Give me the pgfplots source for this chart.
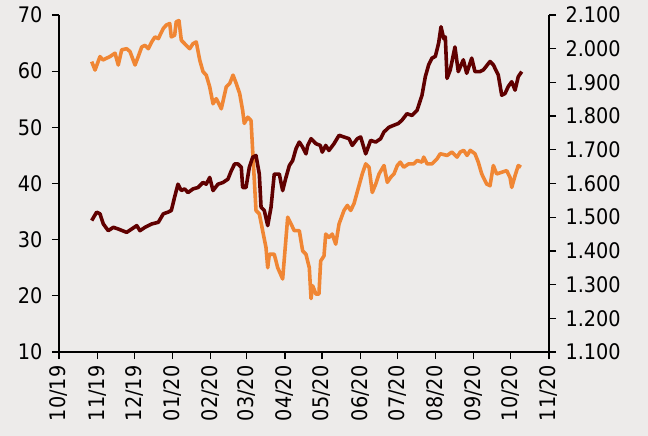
\documentclass[border=0pt]{standalone}
\usepackage{fontspec}
\setmainfont{DejaVu Sans Condensed}
\usepackage{pgfplots}
\pgfplotsset{compat=1.18}
\usepackage{pgfplotstable}

\definecolor{bgc}{HTML}{EDEBEA}
\definecolor{brent}{HTML}{F08634}
\definecolor{gold}{HTML}{600000}

% x = days since 01/10/2019
\pgfplotstableread{
d v
26.5 61.7
29.2 60.2
33.2 62.6
35.6 62.0
41.3 62.6
45.4 63.2
48.0 61.1
50.8 63.8
54.8 64.0
57.5 63.5
61.6 61.1
64.2 62.6
67.0 64.3
69.7 64.6
72.4 64.0
75.1 65.2
77.8 66.1
80.5 65.8
84.5 67.6
86.9 68.2
89.7 68.5
91.0 66.1
93.7 66.4
95.0 68.8
97.2 69.0
99.1 65.5
103.1 64.6
105.9 64.0
108.6 64.9
111.2 65.2
114.0 62.0
116.7 59.9
119.3 59.3
122.1 57.2
124.8 54.2
127.4 55.1
131.5 53.3
135.5 57.2
138.3 57.8
141.0 59.3
143.6 57.8
146.4 56.0
148.8 53.0
150.1 50.7
152.9 51.8
155.6 51.2
156.9 45.9
159.6 35.2
162.3 34.6
165.0 31.6
167.7 28.6
169.1 25.0
170.4 27.4
174.4 27.4
177.2 25.0
181.2 23.0
185.3 34.0
188.0 32.8
190.6 31.6
194.7 31.6
197.4 28.0
200.1 27.4
202.8 25.0
204.2 19.5
205.5 21.8
208.2 20.3
210.6 20.3
212.0 26.2
214.7 27.1
216.1 31.0
218.7 30.4
221.4 31.0
224.2 29.2
226.9 32.8
230.9 35.2
233.6 36.1
236.3 35.2
239.0 36.4
245.7 41.7
248.5 43.5
251.2 42.9
253.8 38.4
256.6 39.9
259.3 41.7
263.3 43.2
266.0 40.2
268.7 41.1
271.4 41.7
274.1 43.2
276.5 43.8
279.3 42.9
283.3 43.5
287.4 43.5
290.1 44.1
294.1 43.8
295.5 44.7
298.2 43.5
302.2 43.5
306.3 44.4
308.9 45.3
314.4 45.0
318.4 45.6
322.5 44.7
325.1 45.6
327.9 45.9
330.6 45.0
333.2 45.9
337.0 45.3
339.7 43.8
342.5 41.7
346.5 39.9
349.2 39.6
351.9 43.2
354.6 41.7
358.7 42.0
362.7 42.3
365.4 41.1
366.8 39.3
369.5 41.4
372.1 43.2
374.3 42.9
}\brenttab

\pgfplotstableread{
d v
26.5 1490
30.5 1515
33.2 1510
35.9 1480
39.9 1460
44.0 1470
48.0 1465
54.8 1455
58.9 1465
63.0 1475
65.6 1460
69.7 1470
75.1 1480
80.5 1485
84.5 1510
88.3 1515
91.0 1520
93.7 1560
96.4 1598
99.1 1579
101.8 1584
104.5 1573
108.6 1584
112.6 1588
116.7 1603
119.3 1598
122.1 1618
124.8 1579
128.8 1598
132.9 1603
136.9 1613
139.6 1638
142.3 1658
145.0 1658
147.7 1648
148.8 1588
151.5 1588
154.2 1648
156.9 1678
159.6 1683
162.3 1628
163.7 1530
166.3 1520
169.1 1475
171.8 1530
174.4 1628
178.5 1628
181.2 1579
183.9 1618
186.6 1653
189.3 1668
192.0 1703
194.7 1723
197.4 1708
200.1 1688
201.5 1713
204.2 1733
208.2 1718
211.7 1713
213.3 1693
216.1 1713
218.7 1698
222.8 1718
226.9 1743
230.9 1738
235.0 1733
237.6 1713
241.7 1733
244.4 1738
248.5 1688
252.5 1728
256.6 1723
260.6 1733
263.3 1753
267.4 1767
271.4 1773
274.9 1778
277.9 1788
281.9 1807
286.0 1802
290.1 1817
294.1 1862
296.8 1917
299.5 1952
302.2 1972
304.9 1977
307.6 2017
309.5 2065
311.7 2030
313.0 2035
314.4 1912
317.0 1937
320.8 2005
323.5 1932
327.6 1967
330.3 1927
334.4 1972
337.0 1932
341.1 1932
343.8 1937
349.2 1962
351.9 1952
355.9 1922
358.7 1862
361.4 1867
364.0 1888
366.8 1902
369.5 1877
372.1 1917
374.9 1932
}\goldtab

\pgfplotsset{
  base/.style={
    width=490bp, height=337bp, scale only axis,
    xmin=0, xmax=397,
    tick align=outside,
    major tick length=7bp,
    every tick/.style={black, line width=1.3pt},
    axis line style={black, line width=1.6pt, -},
    tick label style={font=\fontsize{21.5}{24}\selectfont},
    /pgf/number format/assume math mode=true,
    clip=false,
  },
}

\begin{document}
\begin{tikzpicture}
\fill[bgc] (-59bp,-84bp) rectangle (589bp,352bp);
\useasboundingbox (-59bp,-84bp) rectangle (589bp,352bp);

\begin{axis}[base,
  axis x line*=bottom, axis y line*=left,
  ymin=10, ymax=70, ytick={10,20,...,70},
  xtick={0,31,61,92,123,152,183,213,244,274,305,336,366,397},
  xticklabels={10/19,11/19,12/19,01/20,02/20,03/20,04/20,05/20,06/20,07/20,08/20,09/20,10/20,11/20},
  xticklabel style={rotate=90, anchor=east, xshift=-3bp},
  yticklabel style={xshift=-6bp},
]
\addplot[brent, line width=3.6pt, line join=round] table[x=d, y=v] {\brenttab};
\end{axis}

\begin{axis}[base,
  axis x line=none, axis y line*=right,
  ymin=1100, ymax=2100, ytick={1100,1200,...,2100},
  yticklabel style={/pgf/number format/1000 sep={.}, xshift=6bp},
]
\addplot[gold, line width=3.6pt, line join=round] table[x=d, y=v] {\goldtab};
\end{axis}
\end{tikzpicture}
\end{document}
